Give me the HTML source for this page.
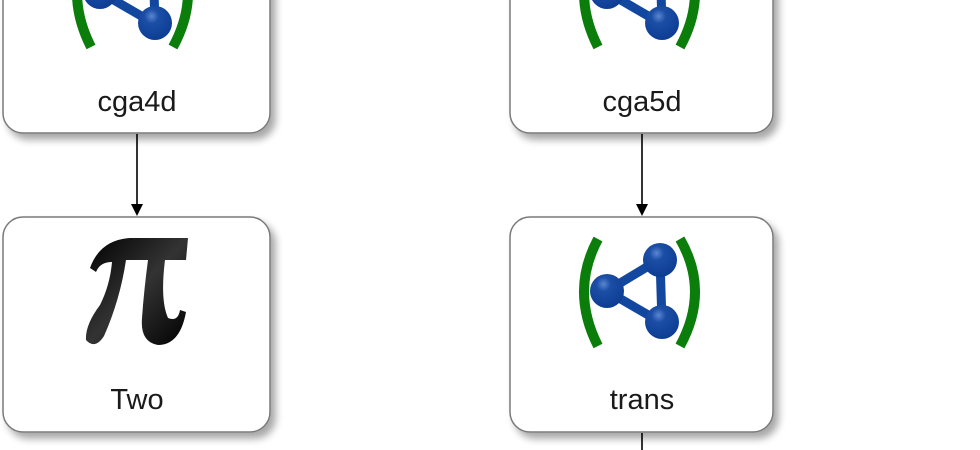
<!DOCTYPE html>
<html><head><meta charset="utf-8"><style>
html,body{margin:0;padding:0;background:#fff;}
svg{display:block;}
text{font-family:"Liberation Sans",sans-serif;font-size:29px;fill:#1a1a1a;text-anchor:middle;}
</style></head><body>
<svg width="980" height="450" viewBox="0 0 980 450" xmlns="http://www.w3.org/2000/svg">
<defs>
<filter id="sh" x="-10%" y="-10%" width="130%" height="130%">
<feGaussianBlur in="SourceAlpha" stdDeviation="4"/><feOffset dx="5" dy="6"/>
<feComponentTransfer><feFuncA type="linear" slope="0.35"/></feComponentTransfer>
<feMerge><feMergeNode/><feMergeNode in="SourceGraphic"/></feMerge></filter>
<radialGradient id="ball" cx="0.4" cy="0.3" r="0.7"><stop offset="0" stop-color="#5a86d0"/><stop offset="0.3" stop-color="#1c4ea6"/><stop offset="1" stop-color="#0d3d93"/></radialGradient>
<linearGradient id="pig" x1="0" y1="0" x2="1" y2="1"><stop offset="0" stop-color="#000"/><stop offset="0.5" stop-color="#333"/><stop offset="1" stop-color="#000"/></linearGradient>
<g id="mol">
<path d="M-42,-52 Q-70,0 -42,55" stroke="#0a7d0a" stroke-width="10" fill="none"/>
<path d="M40,-52 Q70,0 40,55" stroke="#0a7d0a" stroke-width="10" fill="none"/>
<path d="M-33,0 L20,-32 L22,32 Z" stroke="#12479f" stroke-width="9" fill="none" stroke-linejoin="round"/>
<circle cx="-33" cy="0" r="17" fill="url(#ball)"/>
<circle cx="20" cy="-31" r="17" fill="url(#ball)"/>
<circle cx="22" cy="31" r="17" fill="url(#ball)"/>
</g>
</defs>
<g fill="#fff" stroke="#7a7a7a" stroke-width="1.5" filter="url(#sh)">
<rect x="3" y="-82" width="267" height="215" rx="20"/>
<rect x="510" y="-82" width="263" height="215" rx="20"/>
<rect x="3" y="217" width="267" height="215" rx="20"/>
<rect x="510" y="217" width="263" height="215" rx="20"/>
</g>
<use href="#mol" x="640" y="-8"/>
<use href="#mol" x="133" y="-8"/>
<use href="#mol" x="640" y="291"/>
<path d="M90,268 Q100,240 130,238 L188,238 L186,260 L165,260 Q160,300 168,318 Q178,322 180,310 L186,312 Q180,345 158,345 Q140,342 142,318 Q144,290 148,260 L126,260 Q120,300 104,336 Q95,350 86,340 Q85,325 100,305 Q110,285 112,262 Q100,262 96,272 Z" fill="url(#pig)"/>
<text x="137" y="111">cga4d</text>
<text x="642" y="111">cga5d</text>
<text x="137" y="409">Two</text>
<text x="642" y="409">trans</text>
<g stroke="#000" stroke-width="1.6">
<line x1="137" y1="134" x2="137" y2="206"/>
<line x1="642" y1="134" x2="642" y2="206"/>
<line x1="642" y1="433" x2="642" y2="450"/>
</g>
<path d="M131,204 L143,204 L137,216 Z M636,204 L648,204 L642,216 Z" fill="#000"/>
</svg>
</body></html>
